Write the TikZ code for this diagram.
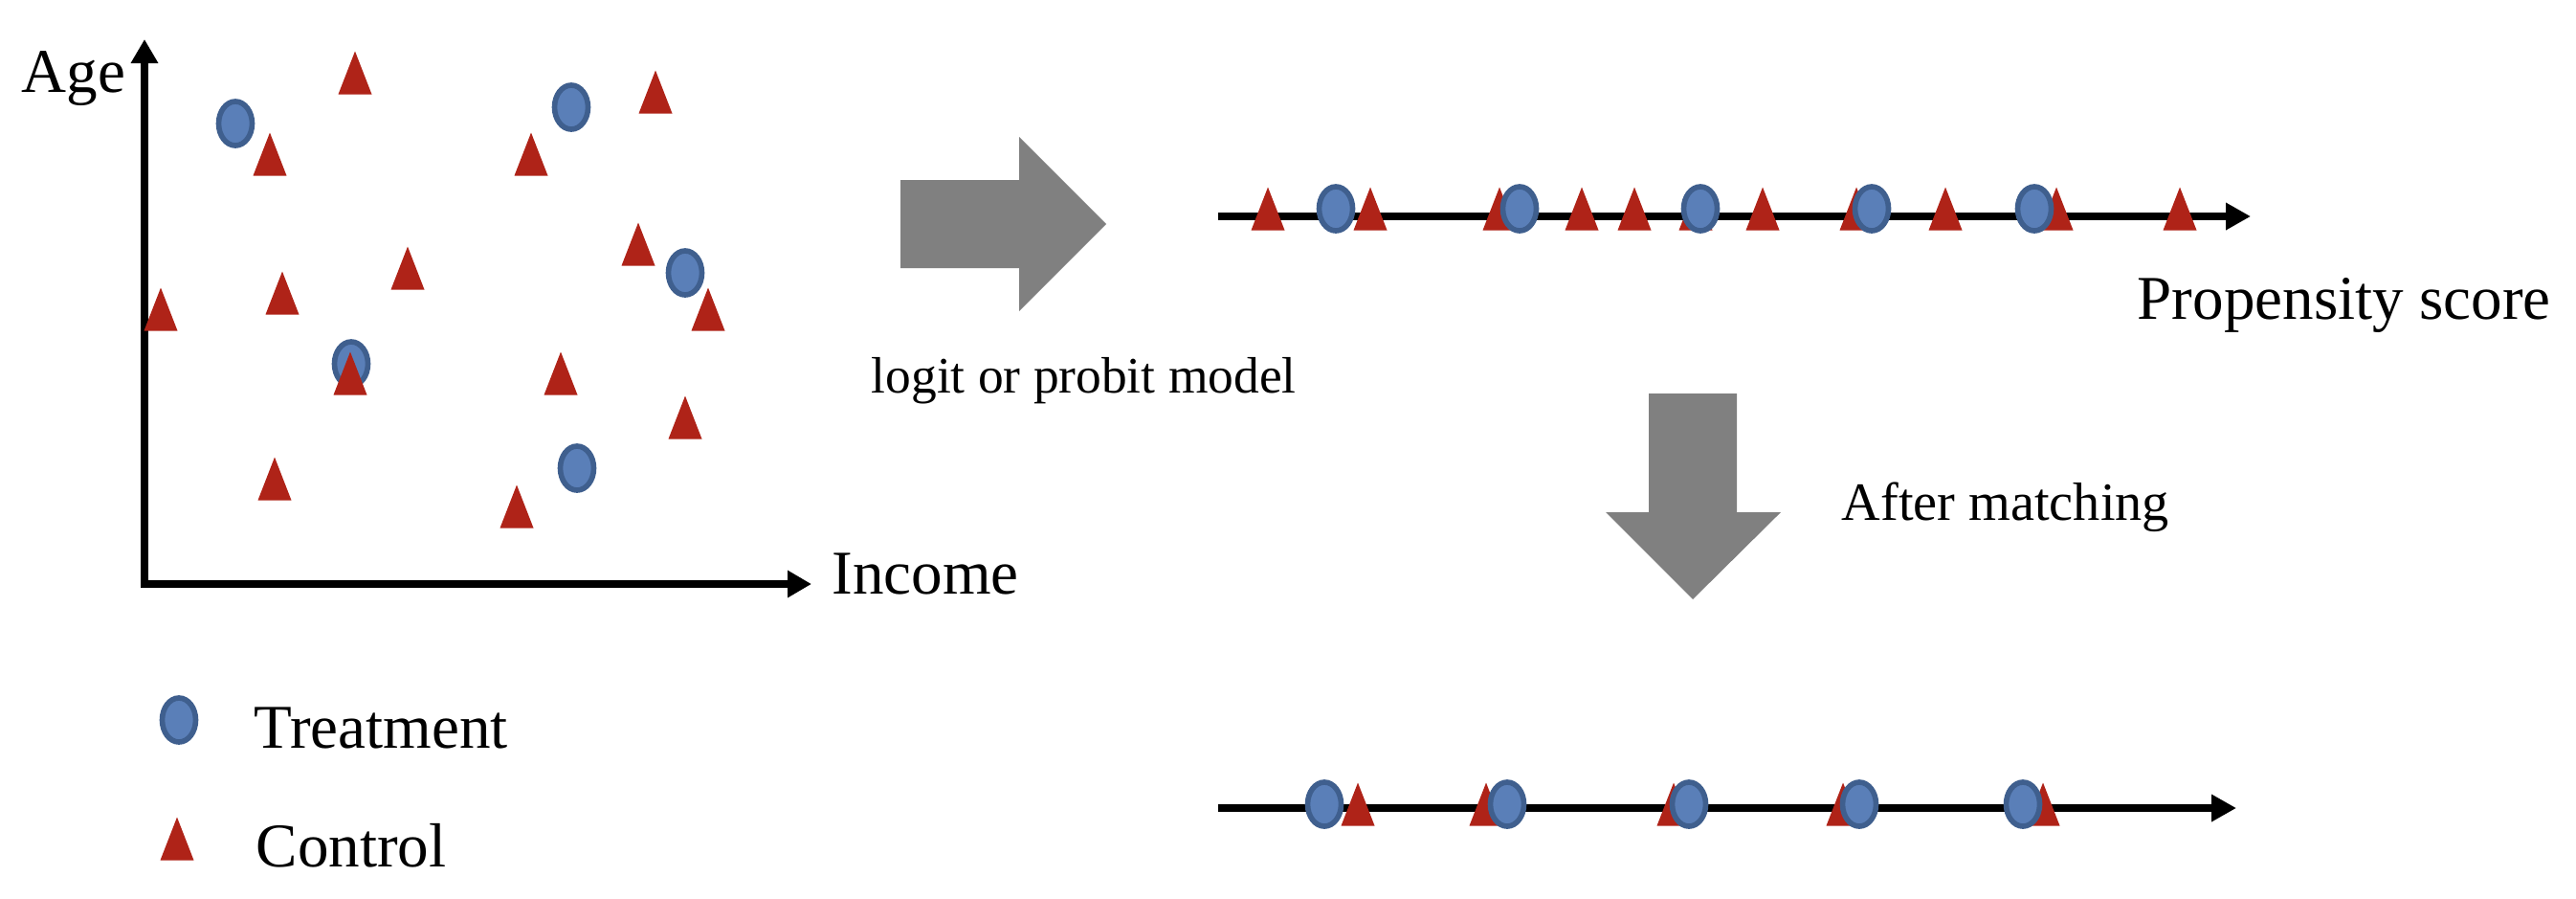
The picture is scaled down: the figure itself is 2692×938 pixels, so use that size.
\documentclass[tikz,border=0pt]{standalone}
\usepackage{fontspec}
\setmainfont{Liberation Serif}
\usetikzlibrary{arrows.meta,shapes.geometric}
\definecolor{tblue}{HTML}{5A7FB8}
\definecolor{tblueb}{HTML}{3F5F8E}
\definecolor{cred}{HTML}{AF2318}
\definecolor{bigarrow}{HTML}{808080}
\tikzset{
  treat/.style={ellipse, fill=tblue, draw=tblueb, line width=1.6pt, minimum width=0.35cm, minimum height=0.46cm, inner sep=0pt},
  ctrl/.pic={\fill[cred] (-17.5,22.5) -- (0,-22.5) -- (17.5,22.5) -- cycle;},
  numline/.style={line width=2.3pt, -{Triangle[length=0.26cm,width=0.27cm]}},
  bigtxt/.style={font=\fontsize{18.5}{22}\selectfont, anchor=base west, inner sep=0pt},
  midtxt/.style={font=\fontsize{15.2}{18}\selectfont, anchor=base west, inner sep=0pt},
}
\begin{document}
\begin{tikzpicture}[x=0.01cm,y=-0.01cm]
\useasboundingbox (0,0) rectangle (2692,938);
% axes
\coordinate (ytip) at (151,41);
\coordinate (orig) at (151,610);
\coordinate (xtip) at (848,610);
\draw[line width=2.4pt, line join=miter, {Triangle[length=0.25cm,width=0.27cm]}-{Triangle[length=0.25cm,width=0.27cm]}] (ytip) -- (orig) -- (xtip);
\node[bigtxt] (age) at (22,96) {Age};
\node[bigtxt] (income) at (869,620) {Income};
% scatter circles
\node[treat] (c1) at (246,129) {};
\node[treat] (c2) at (597,112) {};
\node[treat] (c3) at (716,285) {};
\node[treat] (c4) at (367,380) {};
\node[treat] (c5) at (603,489) {};
% scatter triangles (centre of box)
\foreach \x/\y [count=\i] in {371/76, 685/96, 282/161, 555/161, 667/255, 426/280, 295/306, 168/323, 740/323, 366/390, 586/390, 716/436, 287/500, 540/529}
  \pic (s\i) at (\x,\y) {ctrl};
% big right arrow
\fill[bigarrow] (941,188) -- (1065,188) -- (1065,143) -- (1156,234) -- (1065,325) -- (1065,280) -- (941,280) -- cycle;
\node[midtxt] (logit) at (910,410) {logit or probit model};
% top number line
\coordinate (l1s) at (1273,226);
\coordinate (l1e) at (2352,226);
\draw[numline] (l1s) -- (l1e);
\foreach \x [count=\i] in {1325,1432,1567,1653,1708,1772,1842,1940,2033,2149,2278}
  \pic (a\i) at (\x,218) {ctrl};
\foreach \x [count=\i] in {1396,1588,1777,1956,2126}
  \node[treat] (b\i) at (\x,218) {};
\node[bigtxt] (ps) at (2233,333) {Propensity score};
% big down arrow
\fill[bigarrow] (1723,411) -- (1815,411) -- (1815,535) -- (1861,535) -- (1769,626) -- (1678,535) -- (1723,535) -- cycle;
\node[midtxt, font=\fontsize{16}{19}\selectfont] (after) at (1924,543) {After matching};
% bottom number line
\coordinate (l2s) at (1273,844);
\coordinate (l2e) at (2337,844);
\draw[numline] (l2s) -- (l2e);
\foreach \x [count=\i] in {1419,1553,1749,1926,2135}
  \pic (m\i) at (\x,840) {ctrl};
\foreach \x [count=\i] in {1384,1575,1765,1943,2114}
  \node[treat] (t\i) at (\x,840) {};
% legend
\node[treat] (legc) at (187,752) {};
\pic (legt) at (185,876) {ctrl};
\node[bigtxt] (treatment) at (265,781) {Treatment};
\node[bigtxt] (control) at (267,905) {Control};
\end{tikzpicture}
\end{document}
